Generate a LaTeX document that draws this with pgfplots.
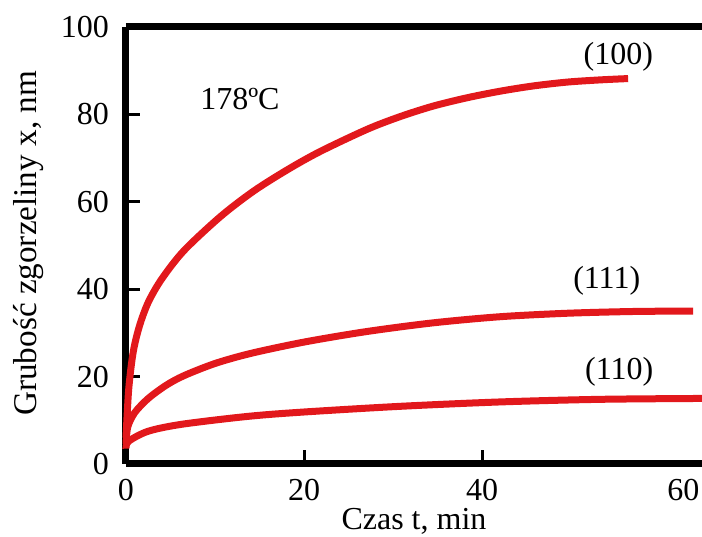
\documentclass[border=0pt]{standalone}
\usepackage{fontspec}
\setmainfont{Liberation Serif}
\usepackage{pgfplots}
\pgfplotsset{compat=1.18}
\definecolor{curvered}{RGB}{226,24,28}

\begin{document}
\begin{tikzpicture}
\begin{axis}[
  name=ax,
  scale only axis,
  width=288pt, height=218.5pt,
  xmin=0, xmax=64.7,
  ymin=0, ymax=100,
  axis x line*=box, axis y line*=left,
  axis line style={black, line width=3.5pt},
  xtick={0,20,40},
  ytick={0,20,40,60,80,100},
  extra x ticks={62.6},
  extra x tick labels={60},
  extra x tick style={major tick length=0pt},
  xtick pos=lower, ytick pos=left,
  tick align=inside,
  major tick length=7pt,
  tick style={black, line width=1.5pt},
  font=\fontsize{16}{19}\selectfont,
  tick label style={font=\fontsize{16}{19}\selectfont},
  /pgf/number format/assume math mode=true,
  yticklabel style={xshift=-5pt},
  xticklabel style={yshift=-4pt},
  xlabel={Czas t, min},
  ylabel={Grubość zgorzeliny x, nm},
  xlabel style={at={(axis description cs:0.5,0)}, anchor=center, yshift=-28.5pt},
  ylabel style={at={(axis description cs:-0.170,0.505)}, anchor=center,
    font=\fontsize{16.6}{19}\selectfont},
  clip=false,
]
% (100)
\addplot[curvered, line width=3.5pt, smooth, tension=0.5] coordinates {
  (0,6) (0.3,17) (0.8,25.5) (1.5,31.5) (2.5,37) (4,42.3) (6.5,48.8) (10.6,56.6)
  (14.3,62.4) (18.1,67.3) (21.8,71.5) (27.1,76.6) (30.8,79.5) (34.5,81.9)
  (38.3,83.8) (42,85.3) (45.7,86.5) (49.6,87.4) (53.3,87.9) (56.4,88.2)
};
% (111)
\addplot[curvered, line width=3.5pt, smooth, tension=0.5] coordinates {
  (0,4.5) (0.2,8.5) (1,11.8) (2.5,15) (4.5,18) (6.5,20.2) (10,23) (14,25.3)
  (20,27.9) (27,30.3) (34.5,32.3) (42,33.7) (49.6,34.5) (57,34.9) (63.7,35.0)
};
% (110)
\addplot[curvered, line width=3.5pt, smooth, tension=0.5] coordinates {
  (0,3.5) (0.3,5.2) (2.5,7.5) (6.3,9.1) (13.7,10.9) (20,11.9) (30.8,13.2)
  (42,14.2) (53.3,14.8) (64.7,15.0)
};
\node at (axis cs:12.8,83.5) {178ºC};
\node at (axis cs:55.3,93.2) {(100)};
\node at (axis cs:54.0,41.9) {(111)};
\node at (axis cs:55.4,21.0) {(110)};
\end{axis}
\pgfresetboundingbox
\path ([shift={(-63pt,-36pt)}]ax.south west) rectangle ([shift={(288pt,232pt)}]ax.south west);
\end{tikzpicture}
\end{document}
